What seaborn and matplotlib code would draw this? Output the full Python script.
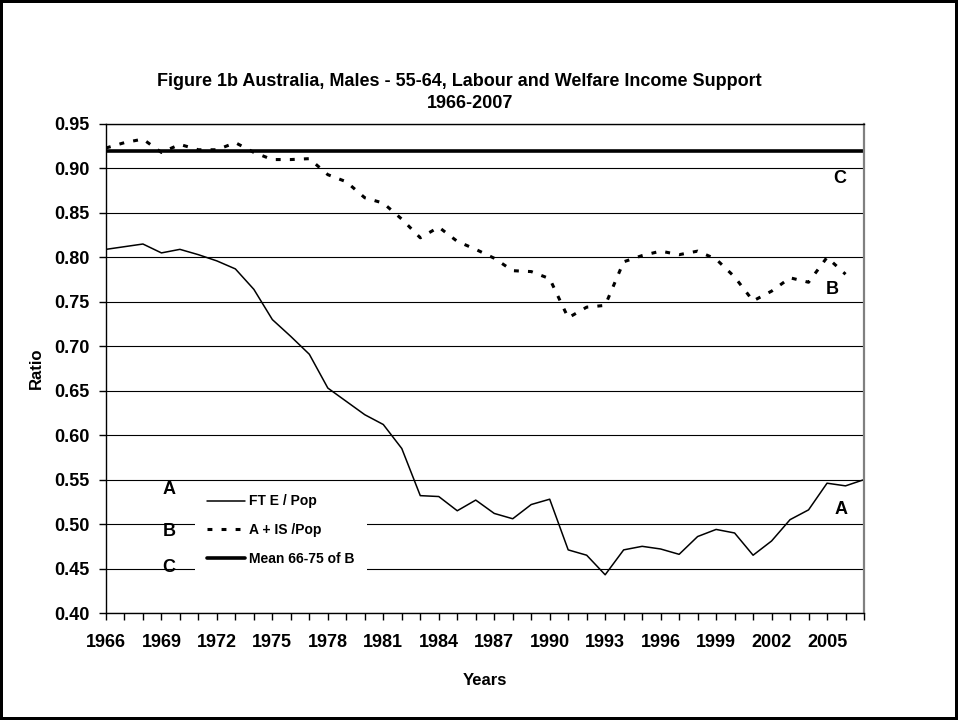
import numpy as np
import pandas as pd
import matplotlib
matplotlib.use("Agg")
import matplotlib.pyplot as plt
import seaborn as sns

years = list(range(1966, 2008))

# A: full-time equivalent employment / population
ft_e_pop = [0.809, 0.812, 0.815, 0.805, 0.809, 0.803, 0.796, 0.787, 0.764, 0.730,
            0.711, 0.691, 0.653, 0.638, 0.623, 0.612, 0.585, 0.532, 0.531, 0.515,
            0.527, 0.512, 0.506, 0.522, 0.528, 0.471, 0.465, 0.443, 0.471, 0.475,
            0.472, 0.466, 0.486, 0.494, 0.490, 0.465, 0.481, 0.505, 0.516, 0.546,
            0.543, 0.550]

# B: employment + income support / population (no 2007 value)
a_is_pop = [0.923, 0.929, 0.933, 0.918, 0.927, 0.921, 0.921, 0.929, 0.918, 0.910,
            0.910, 0.911, 0.893, 0.885, 0.867, 0.861, 0.843, 0.822, 0.834, 0.818,
            0.809, 0.799, 0.785, 0.784, 0.776, 0.732, 0.744, 0.746, 0.795, 0.802,
            0.807, 0.803, 0.807, 0.798, 0.778, 0.751, 0.762, 0.777, 0.772, 0.800,
            0.781, np.nan]

# C: mean of B over 1966-75
mean_b = 0.92

labels = ["FT E / Pop", "A + IS /Pop", "Mean 66-75 of B"]

df = pd.DataFrame({"year": years, "A": ft_e_pop, "B": a_is_pop})

sns.set_style("white")
plt.rcParams["font.family"] = ["Liberation Sans", "DejaVu Sans"]
plt.rcParams["font.weight"] = "bold"
plt.rcParams["text.color"] = "black"
plt.rcParams["axes.labelcolor"] = "black"
plt.rcParams["xtick.color"] = "black"
plt.rcParams["ytick.color"] = "black"

fig = plt.figure(figsize=(9.58, 7.2), dpi=100)
fig.patch.set_edgecolor("black")
fig.patch.set_linewidth(4)
ax = fig.add_axes([0.1106, 0.1486, 0.9019 - 0.1106, 0.8278 - 0.1486])

sns.lineplot(data=df, x="year", y="A", ax=ax, color="black", linewidth=1.1, label=labels[0])
sns.lineplot(data=df, x="year", y="B", ax=ax, color="black", linewidth=2.2,
             dashes=False, label=labels[1])
ax.lines[-1].set_dashes((1.6, 3.0))
ax.axhline(mean_b, color="black", linewidth=2.6, label=labels[2])

ax.set_xlim(1966, 2007)
ax.set_ylim(0.40, 0.95)
ax.set_yticks(np.arange(0.40, 0.951, 0.05))
ax.set_yticklabels([f"{v:.2f}" for v in np.arange(0.40, 0.951, 0.05)])
ax.set_xticks(range(1966, 2008, 3))
ax.set_xticks(range(1966, 2008), minor=True)
ax.tick_params(axis="both", which="major", labelsize=13, length=5, width=1,
               direction="out", color="black")
ax.tick_params(axis="x", which="minor", length=5, width=1, direction="out", color="black")
ax.tick_params(axis="x", which="both", bottom=True, pad=10)
ax.tick_params(axis="y", left=True, pad=7)
for lab in ax.get_xticklabels() + ax.get_yticklabels():
    lab.set_fontweight("bold")

ax.grid(axis="y", color="black", linewidth=0.8)
ax.set_axisbelow(True)
for side in ["left", "bottom", "top"]:
    ax.spines[side].set_color("black")
    ax.spines[side].set_linewidth(1.0)
ax.spines["right"].set_color("#808080")
ax.spines["right"].set_linewidth(1.6)

ax.set_xlabel("Years", fontsize=12, fontweight="bold", labelpad=16)
ax.set_ylabel("Ratio", fontsize=12, fontweight="bold", labelpad=7)

fig.text(459 / 958, 1 - 82 / 720,
         "Figure 1b Australia, Males - 55-64, Labour and Welfare Income Support",
         ha="center", va="center", fontsize=13, fontweight="bold")
fig.text(470 / 958, 1 - 103 / 720, "1966-2007",
         ha="center", va="center", fontsize=13, fontweight="bold")

# series letters
for txt, x, y in [("A", 1969.4, 0.539), ("B", 1969.4, 0.492), ("C", 1969.4, 0.451),
                  ("C", 2005.7, 0.889), ("B", 2005.3, 0.764), ("A", 2005.75, 0.516)]:
    ax.text(x, y, txt, ha="center", va="center", fontsize=13, fontweight="bold", zorder=5)

leg = ax.legend(loc="upper left", bbox_to_anchor=(188 / 958, 1 - 475 / 720),
                bbox_transform=fig.transFigure, frameon=True, fancybox=False,
                facecolor="white", edgecolor="none", framealpha=1,
                prop={"size": 10, "weight": "bold"}, handlelength=2.7,
                handletextpad=0.3, labelspacing=1.05, borderpad=0.9)
leg.set_zorder(4)

fig.savefig("out.png", dpi=100)
